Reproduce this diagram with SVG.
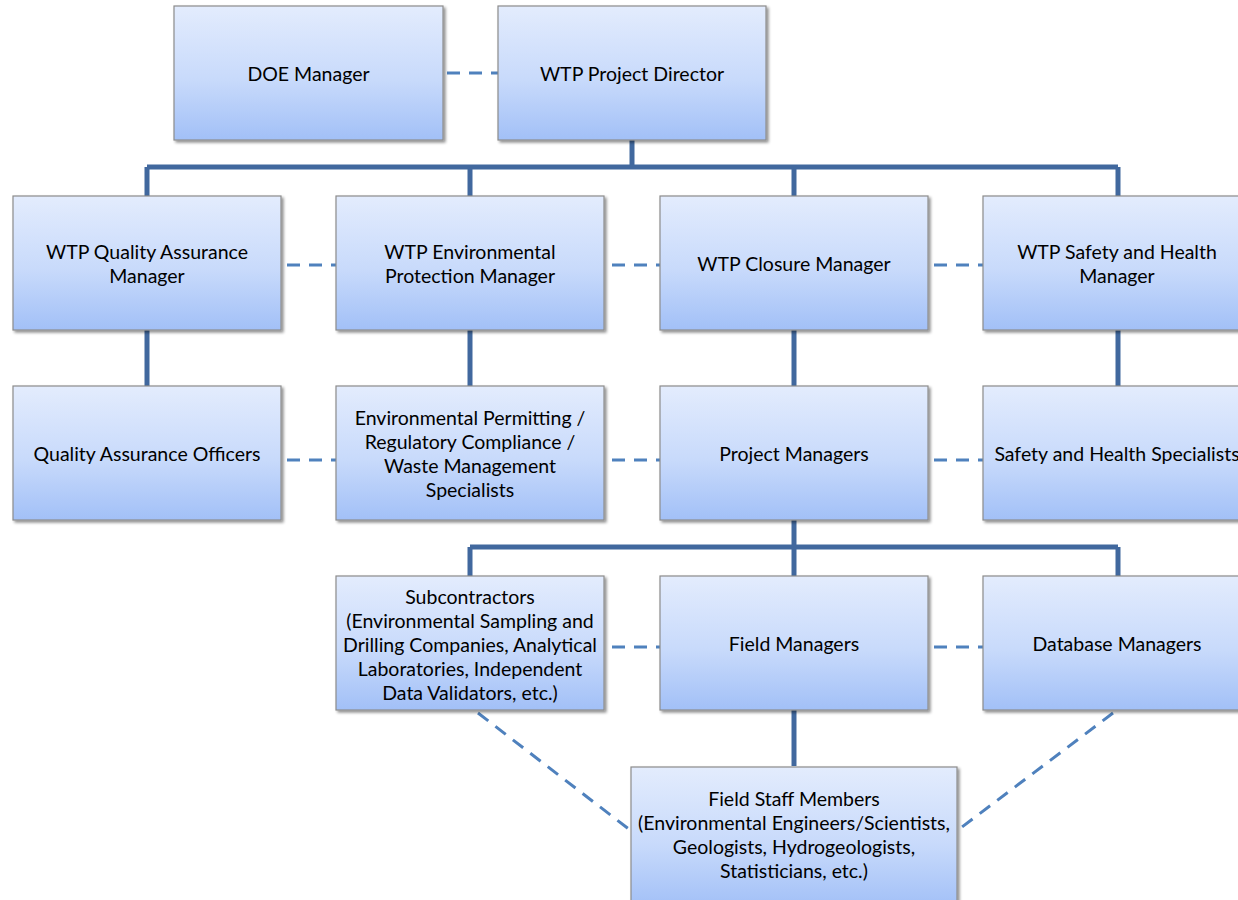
<svg xmlns="http://www.w3.org/2000/svg" width="1238" height="900" viewBox="0 0 1238 900">
<defs>
<linearGradient id="g" x1="0" y1="0" x2="0" y2="1">
<stop offset="0" stop-color="#E3ECFD"/>
<stop offset="0.55" stop-color="#C8DAFB"/>
<stop offset="1" stop-color="#A2C0F7"/>
</linearGradient>
<filter id="sh" x="-5%" y="-5%" width="115%" height="115%">
<feGaussianBlur in="SourceAlpha" stdDeviation="1.5"/>
<feOffset dx="2" dy="2" result="b"/>
<feComponentTransfer><feFuncA type="linear" slope="0.45"/></feComponentTransfer>
<feMerge><feMergeNode/><feMergeNode in="SourceGraphic"/></feMerge>
</filter>
</defs>
<style>
.box{fill:url(#g);stroke:#8C8C8C;stroke-width:1.2;filter:url(#sh)}
text{font-family:Lato,"Open Sans","Liberation Sans",sans-serif;font-size:19.5px;fill:#000;text-anchor:middle;dominant-baseline:central}
.solid{stroke:#41689E;stroke-width:5;fill:none}
.dash{stroke:#4F81BD;stroke-width:3;fill:none;stroke-dasharray:13 9}
</style>
<rect width="1238" height="900" fill="#fff"/>
<g id="connectors">
<path class="solid" d="M632 140V167M147 167H1118M147 167V196M470 167V196M794 167V196M1118 167V196"/>
<path class="solid" d="M147 330V386M470 330V386M794 330V386M1118 330V386"/>
<path class="solid" d="M794 520V547M470 547H1118M470 547V576M794 547V576M1118 547V576"/>
<path class="solid" d="M794 710V766"/>
<path class="dash" d="M447 73H498"/>
<path class="dash" d="M287 265H336M612 265H660M934 265H983"/>
<path class="dash" d="M287 460H336M612 460H660M934 460H983"/>
<path class="dash" d="M612 647H660M934 647H983"/>
<path class="dash" d="M478 713L630 830M1113 713L958 830"/>
</g>
<g id="doe"><rect class="box" x="174" y="6" width="269" height="134"/><text x="308.5" y="73">DOE Manager</text></g>
<g id="director"><rect class="box" x="498" y="6" width="268" height="134"/><text x="632" y="73">WTP Project Director</text></g>
<g id="qa-manager"><rect class="box" x="13" y="196" width="268" height="134"/><text x="147" y="251">WTP Quality Assurance</text><text x="147" y="275">Manager</text></g>
<g id="env-manager"><rect class="box" x="336" y="196" width="268" height="134"/><text x="470" y="251">WTP Environmental</text><text x="470" y="275">Protection Manager</text></g>
<g id="closure-manager"><rect class="box" x="660" y="196" width="268" height="134"/><text x="794" y="263">WTP Closure Manager</text></g>
<g id="safety-manager"><rect class="box" x="983" y="196" width="268" height="134"/><text x="1117" y="251">WTP Safety and Health</text><text x="1117" y="275">Manager</text></g>
<g id="qa-officers"><rect class="box" x="13" y="386" width="268" height="134"/><text x="147" y="453">Quality Assurance Officers</text></g>
<g id="env-specialists"><rect class="box" x="336" y="386" width="268" height="134"/><text x="470" y="417">Environmental Permitting /</text><text x="470" y="441">Regulatory Compliance /</text><text x="470" y="465">Waste Management</text><text x="470" y="489">Specialists</text></g>
<g id="project-managers"><rect class="box" x="660" y="386" width="268" height="134"/><text x="794" y="453">Project Managers</text></g>
<g id="safety-specialists"><rect class="box" x="983" y="386" width="268" height="134"/><text x="1117" y="453">Safety and Health Specialists</text></g>
<g id="subcontractors"><rect class="box" x="336" y="576" width="268" height="134"/><text x="470" y="596">Subcontractors</text><text x="470" y="620">(Environmental Sampling and</text><text x="470" y="644">Drilling Companies, Analytical</text><text x="470" y="668">Laboratories, Independent</text><text x="470" y="692">Data Validators, etc.)</text></g>
<g id="field-managers"><rect class="box" x="660" y="576" width="268" height="134"/><text x="794" y="643">Field Managers</text></g>
<g id="database-managers"><rect class="box" x="983" y="576" width="268" height="134"/><text x="1117" y="643">Database Managers</text></g>
<g id="field-staff"><rect class="box" x="631" y="767" width="326" height="140"/><text x="794" y="798">Field Staff Members</text><text x="794" y="822">(Environmental Engineers/Scientists,</text><text x="794" y="846">Geologists, Hydrogeologists,</text><text x="794" y="870">Statisticians, etc.)</text></g>
</svg>
